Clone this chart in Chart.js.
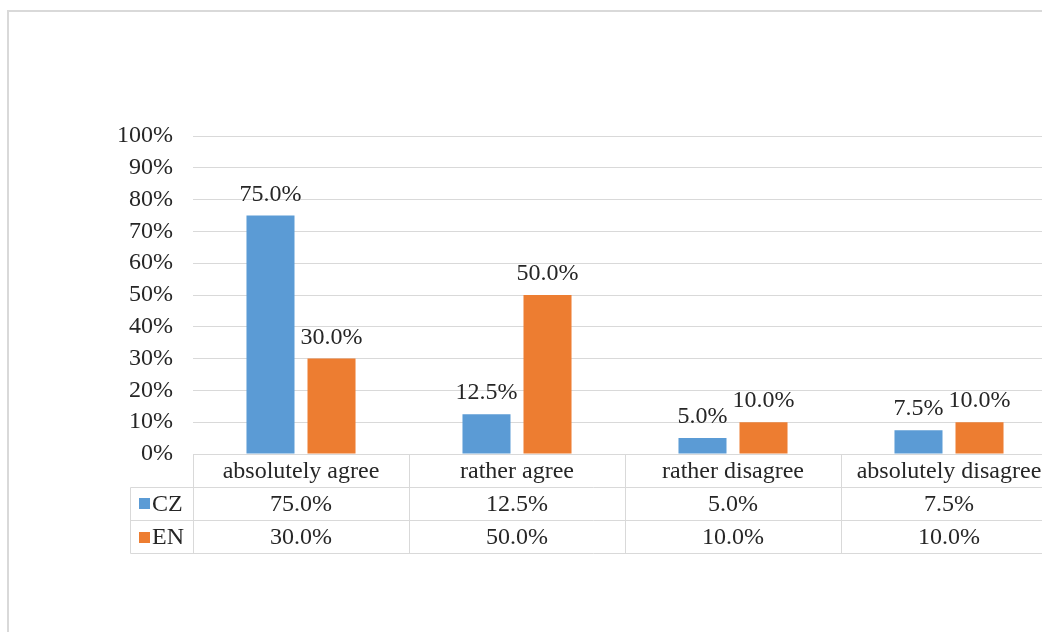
<!DOCTYPE html>
<html>
<head>
<meta charset="utf-8">
<script src="https://cdn.jsdelivr.net/npm/chart.js@4/dist/chart.umd.min.js"></script>
<style>
  html, body { margin: 0; padding: 0; background: #fff; overflow: hidden; width: 1042px; height: 632px; }
  #frame { position: absolute; left: 7px; top: 10px; width: 1100px; height: 700px;
           border-left: 2px solid #d9d9d9; border-top: 2px solid #d9d9d9; }
  #wrap { position: absolute; left: 0; top: 0; }
</style>
</head>
<body>
<div id="frame"></div>
<div id="wrap"><canvas id="c" width="1070" height="632"></canvas></div>
<script>
// Survey answers, share of respondents per group (%)
const categories = ['absolutely agree', 'rather agree', 'rather disagree', 'absolutely disagree'];
const seriesNames = ['CZ', 'EN'];
const czValues = [75.0, 12.5, 5.0, 7.5];
const enValues = [30.0, 50.0, 10.0, 10.0];
const seriesColors = ['#5B9BD5', '#ED7D31'];

const FONT = '"Liberation Serif", "Times New Roman", serif';
const FONT_SIZE = 24;
const TEXT = '#262626';
const LINE = '#d9d9d9';
const fmt = v => v.toFixed(1) + '%';

// Value labels above each bar
const barLabels = {
  id: 'barLabels',
  afterDatasetsDraw(chart) {
    const ctx = chart.ctx;
    ctx.save();
    ctx.font = FONT_SIZE + 'px ' + FONT;
    ctx.fillStyle = TEXT;
    ctx.textAlign = 'center';
    ctx.textBaseline = 'alphabetic';
    chart.data.datasets.forEach((ds, di) => {
      chart.getDatasetMeta(di).data.forEach((bar, i) => {
        ctx.fillText(fmt(ds.data[i]), bar.x, bar.y - 15);
      });
    });
    ctx.restore();
  }
};

// Data table under the plot: category row, then one row per series with legend key
const dataTable = {
  id: 'dataTable',
  afterDraw(chart) {
    const ctx = chart.ctx;
    const area = chart.chartArea;
    const xs = chart.scales.x;
    const n = categories.length;
    const colW = (area.right - area.left) / n;
    const rowH = 33.3;
    const top = Math.round(area.bottom) + 0.5;
    const keyLeft = 130.5;
    const bottom = top + rowH * 3;
    ctx.save();
    ctx.strokeStyle = LINE;
    ctx.lineWidth = 1;
    ctx.beginPath();
    // header row top edge
    ctx.moveTo(area.left, top); ctx.lineTo(area.right, top);
    // series rows
    for (let r = 1; r <= 3; r++) {
      const y = Math.round(top + rowH * r) - 0.5;
      ctx.moveTo(keyLeft, y); ctx.lineTo(area.right, y);
    }
    // column dividers
    for (let c = 0; c <= n; c++) {
      const x = Math.round(area.left + colW * c) + 0.5;
      ctx.moveTo(x, top); ctx.lineTo(x, Math.round(bottom) - 0.5);
    }
    ctx.moveTo(keyLeft, Math.round(top + rowH) - 0.5);
    ctx.lineTo(keyLeft, Math.round(bottom) - 0.5);
    ctx.stroke();

    ctx.font = FONT_SIZE + 'px ' + FONT;
    ctx.fillStyle = TEXT;
    ctx.textAlign = 'center';
    ctx.textBaseline = 'middle';
    categories.forEach((cat, i) => {
      ctx.fillText(cat, xs.getPixelForValue(i), top + rowH / 2 + 1);
    });
    chart.data.datasets.forEach((ds, di) => {
      const yMid = top + rowH * (di + 1) + rowH / 2;
      ds.data.forEach((v, i) => {
        ctx.textAlign = 'center';
        ctx.fillStyle = TEXT;
        ctx.fillText(fmt(v), xs.getPixelForValue(i), yMid);
      });
      ctx.fillStyle = ds.backgroundColor;
      ctx.fillRect(139, Math.round(yMid - 6), 11, 11);
      ctx.fillStyle = TEXT;
      ctx.textAlign = 'left';
      ctx.fillText(ds.label, 152, yMid);
    });
    ctx.restore();
  }
};

new Chart(document.getElementById('c'), {
  type: 'bar',
  data: {
    labels: categories,
    datasets: [
      { label: seriesNames[0], data: czValues, backgroundColor: seriesColors[0] },
      { label: seriesNames[1], data: enValues, backgroundColor: seriesColors[1] }
    ]
  },
  options: {
    responsive: false,
    animation: false,
    devicePixelRatio: 1,
    categoryPercentage: 0.565,
    barPercentage: 0.787,
    layout: { padding: { top: 136, right: 13, bottom: 178, left: 0 } },
    plugins: { legend: { display: false }, tooltip: { enabled: false } },
    scales: {
      x: { display: false },
      y: {
        min: 0, max: 100,
        ticks: {
          stepSize: 10,
          padding: 20,
          color: TEXT,
          font: { family: FONT, size: FONT_SIZE },
          callback: v => v + '%'
        },
        grid: { color: LINE, drawTicks: false, lineWidth: 1 },
        border: { display: false },
        afterFit(scale) { scale.width = 193; }
      }
    }
  },
  plugins: [barLabels, dataTable]
});
</script>
</body>
</html>
